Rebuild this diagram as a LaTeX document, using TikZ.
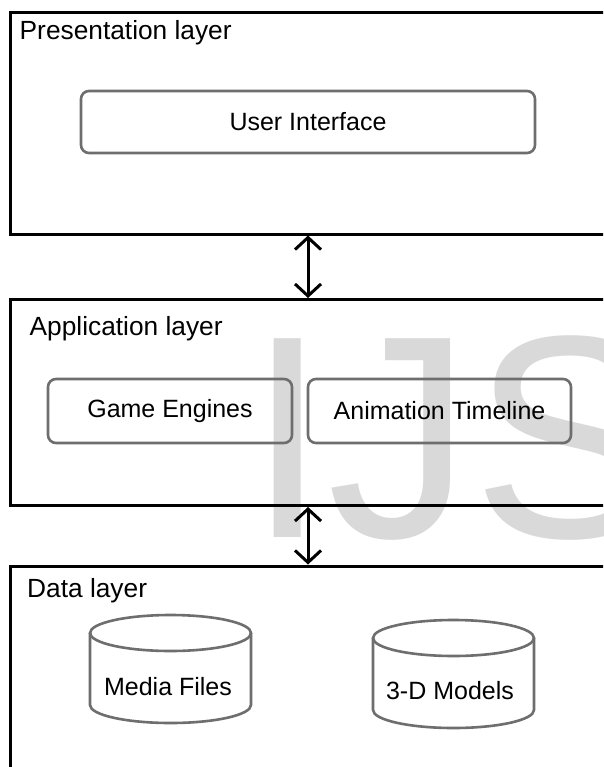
\documentclass[tikz,border=0pt]{standalone}
\usepackage{fontspec}
\setmainfont{Liberation Sans}
\usetikzlibrary{arrows.meta}
\definecolor{inkgray}{HTML}{6E6E6E}
\definecolor{markgray}{HTML}{D9D9D9}
\tikzset{
  layerbox/.style={draw=black, line width=3pt, anchor=north west, inner sep=0pt, minimum width=640pt},
  unitbox/.style={draw=inkgray, line width=2.6pt, rounded corners=8pt, inner sep=0pt,
    font=\fontsize{25}{25}\selectfont},
  layerlabel/.style={anchor=base west, inner sep=0pt, font=\fontsize{26.3}{26.3}\selectfont},
  storetext/.style={inner sep=0pt, anchor=base, font=\fontsize{25}{25}\selectfont},
  store/.style={draw=inkgray, line width=2.6pt},
  biarrow/.style={line width=3pt, {Straight Barb[length=12pt,width=26pt]}-{Straight Barb[length=12pt,width=26pt]}}
}
\begin{document}
\begin{tikzpicture}[x=1pt, y=-1pt]
\useasboundingbox (0,0) rectangle (603,767);
\clip (0,0) rectangle (603,767);
\fill[white] (0,0) rectangle (603,767);

% watermark lettering behind the diagram
\node[anchor=base west, inner sep=0pt, text=markgray, font=\fontsize{289}{289}\selectfont] (mark) at (247,537) {IJS};

% the three layers
\node[layerbox, minimum height=221pt] (pres) at (8.5,11.5) {};
\node[layerbox, minimum height=206pt] (app) at (8.5,298) {};
\node[layerbox, minimum height=240pt] (data) at (8.5,564.5) {};

\node[layerlabel] (preslbl) at (19.5,40) {Presentation layer};
\node[layerlabel] (applbl) at (29.5,335) {Application layer};
\node[layerlabel] (datalbl) at (27,597) {Data layer};

% presentation layer content
\node[unitbox, minimum width=454pt, minimum height=62pt] (ui) at (308,122) {User Interface};

% application layer content
\node[unitbox, minimum width=244pt, minimum height=64pt] (engines) at (170,411) {Game Engines};
\node[unitbox, minimum width=263pt, minimum height=64pt] (timeline) at (439.5,411) {Animation Timeline};

% data layer stores
\draw[store] (90,633) -- (90,705) arc[start angle=180, end angle=0, x radius=80.5, y radius=18] -- (251,633);
\draw[store] (170.5,633) ellipse [x radius=80.5, y radius=18];
\node[storetext] (media) at (168,695) {Media Files};

\draw[store] (373,638) -- (373,710) arc[start angle=180, end angle=0, x radius=80.5, y radius=18] -- (534,638);
\draw[store] (453.5,638) ellipse [x radius=80.5, y radius=18];
\node[storetext] (models) at (450,699) {3-D Models};

% links between layers
\draw[biarrow] (ui |- pres.south) -- (ui |- app.north);
\draw[biarrow] (ui |- app.south) -- (ui |- data.north);
\end{tikzpicture}
\end{document}
